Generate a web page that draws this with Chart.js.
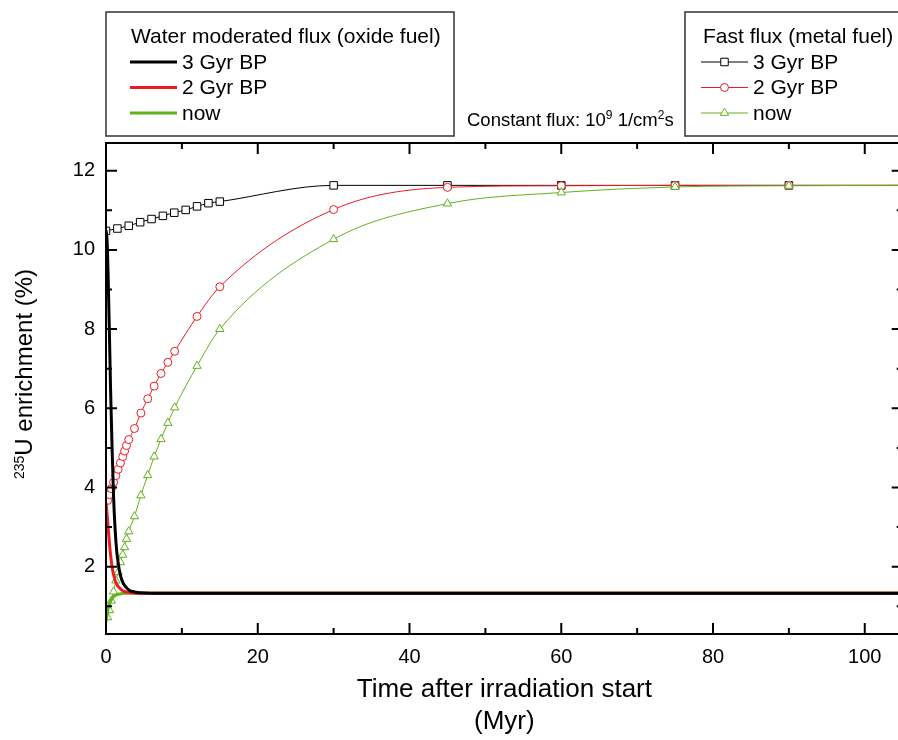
<!DOCTYPE html>
<html>
<head>
<meta charset="utf-8">
<script src="https://cdn.jsdelivr.net/npm/chart.js@4.4.1/dist/chart.umd.min.js"></script>
<style>
  html, body { margin: 0; padding: 0; background: #fff; overflow: hidden; }
  #wrap { width: 909px; height: 740px; }
  canvas { display: block; }
</style>
</head>
<body>
<div id="wrap"><canvas id="myChart" width="909" height="740"></canvas></div>
<script>
// FAST FLUX (metal fuel) - markers
var fast3Time = [0, 1.5, 3, 4.5, 6, 7.5, 9, 10.5, 12, 13.5, 15, 30, 45, 60, 75, 90, 105];
var fast3Enrich = [10.48, 10.54, 10.61, 10.70, 10.78, 10.86, 10.94, 11.01, 11.10, 11.18, 11.22, 11.63, 11.63, 11.63, 11.63, 11.63, 11.63];

var fastTime = [0.2, 0.45, 0.7, 1.0, 1.3, 1.6, 1.9, 2.2, 2.45, 2.7, 3.0, 3.75, 4.6, 5.5, 6.35, 7.25, 8.15, 9.05, 12, 15, 30, 45, 60, 75, 90, 105];
var fast2Enrich = [3.67, 3.82, 3.97, 4.13, 4.30, 4.46, 4.62, 4.78, 4.92, 5.06, 5.21, 5.49, 5.88, 6.24, 6.56, 6.88, 7.16, 7.44, 8.32, 9.07, 11.02, 11.58, 11.62, 11.63, 11.63, 11.63];
var fastNowEnrich = [0.72, 0.90, 1.14, 1.37, 1.65, 1.86, 2.11, 2.30, 2.49, 2.70, 2.89, 3.27, 3.80, 4.31, 4.78, 5.22, 5.63, 6.02, 7.07, 8.00, 10.27, 11.17, 11.45, 11.59, 11.62, 11.63];

// WATER MODERATED FLUX (oxide fuel) - thick lines
var water3Time = [0, 0.15, 0.3, 0.45, 0.6, 0.8, 1.0, 1.2, 1.4, 1.6, 1.85, 2.1, 2.4, 2.8, 3.2, 3.8, 4.5, 6, 105];
var water3Enrich = [10.5, 10.2, 9.2, 7.9, 6.5, 5.0, 3.75, 2.95, 2.42, 2.1, 1.82, 1.66, 1.54, 1.45, 1.39, 1.36, 1.34, 1.33, 1.33];

var water2Time = [0, 0.15, 0.3, 0.45, 0.6, 0.8, 1.0, 1.3, 1.6, 2.0, 2.5, 3.0, 4.0, 105];
var water2Enrich = [3.62, 3.3, 2.95, 2.6, 2.3, 2.0, 1.8, 1.6, 1.5, 1.42, 1.37, 1.35, 1.33, 1.33];

var waterNowTime = [0, 0.1, 0.2, 0.35, 0.5, 0.75, 1.0, 1.3, 1.8, 2.5, 105];
var waterNowEnrich = [0.62, 0.75, 0.87, 1.0, 1.09, 1.18, 1.24, 1.28, 1.31, 1.33, 1.33];

// ticks
var xTicks = [0, 10, 20, 30, 40, 50, 60, 70, 80, 90, 100];
var xLabels = [0, 20, 40, 60, 80, 100];
var yTicks = [1, 2, 3, 4, 5, 6, 7, 8, 9, 10, 11, 12];
var yLabels = [2, 4, 6, 8, 10, 12];

var RED = '#ec1c24';
var GREEN = '#62b21e';
var FONT = "'Liberation Sans', Arial, sans-serif";

function pairs(xs, ys) {
  return xs.map(function (x, i) { return { x: x, y: ys[i] }; });
}

Chart.defaults.font.family = FONT;
Chart.defaults.color = '#000';

// box, inward ticks, axis title, legends
var decorations = {
  id: 'decorations',
  afterDraw: function (chart) {
    var c = chart.ctx, a = chart.chartArea;
    var xs = chart.scales.x, ys = chart.scales.y;
    c.save();

    c.strokeStyle = '#000';
    c.lineWidth = 2;
    c.strokeRect(a.left, a.top, a.right - a.left, a.bottom - a.top);
    c.beginPath();
    xTicks.forEach(function (v) {
      var px = xs.getPixelForValue(v), len = v % 20 === 0 ? 11 : 6;
      c.moveTo(px, a.bottom); c.lineTo(px, a.bottom - len);
      c.moveTo(px, a.top); c.lineTo(px, a.top + len);
    });
    yTicks.forEach(function (v) {
      var py = ys.getPixelForValue(v), len = v % 2 === 0 ? 11 : 6;
      c.moveTo(a.left, py); c.lineTo(a.left + len, py);
      c.moveTo(a.right, py); c.lineTo(a.right - len, py);
    });
    c.stroke();

    // y axis title with superscript
    c.save();
    c.translate(24, 374);
    c.rotate(-Math.PI / 2);
    c.fillStyle = '#000';
    c.textBaseline = 'alphabetic';
    c.font = '14px ' + FONT;
    var wSup = c.measureText('235').width;
    c.font = '24px ' + FONT;
    var wMain = c.measureText('U enrichment (%)').width;
    var x0 = -(wSup + wMain) / 2;
    c.font = '14px ' + FONT;
    c.fillText('235', x0, 0);
    c.font = '24px ' + FONT;
    c.fillText('U enrichment (%)', x0 + wSup, 8);
    c.restore();

    // legend boxes
    c.strokeStyle = '#333';
    c.lineWidth = 1.5;
    c.strokeRect(106, 12, 348, 124);
    c.strokeRect(685, 12, 240, 124);

    var ds = chart.data.datasets;
    var rows = [62, 87.5, 113];
    c.fillStyle = '#000';
    c.textBaseline = 'middle';
    c.font = '21px ' + FONT;
    c.fillText('Water moderated flux (oxide fuel)', 131, 37);
    c.fillText('Fast flux (metal fuel)', 703, 37);

    [0, 1, 2].forEach(function (i) {
      var w = ds[i], f = ds[i + 3], y = rows[i];
      c.strokeStyle = w.borderColor;
      c.lineWidth = w.borderWidth;
      c.beginPath(); c.moveTo(130, y); c.lineTo(177, y); c.stroke();
      c.fillStyle = '#000';
      c.fillText(w.label, 182, y + 1);

      c.strokeStyle = f.borderColor;
      c.lineWidth = 1;
      c.beginPath(); c.moveTo(701, y); c.lineTo(748, y); c.stroke();
      c.fillStyle = '#fff';
      c.strokeStyle = f.pointBorderColor;
      Chart.helpers.drawPoint(c, { pointStyle: f.pointStyle, radius: f.pointRadius, borderWidth: 1, rotation: 0 }, 724.5, y);
      c.fillStyle = '#000';
      c.fillText(f.label, 753, y + 1);
    });

    // constant flux note
    c.textBaseline = 'alphabetic';
    var x = 467, base = 126;
    function part(t, size, dy) {
      c.font = size + 'px ' + FONT;
      c.fillText(t, x, base - dy);
      x += c.measureText(t).width;
    }
    part('Constant flux: 10', 18.5, 0);
    part('9', 12, 7);
    part(' 1/cm', 18.5, 0);
    part('2', 12, 7);
    part('s', 18.5, 0);

    c.restore();
  }
};

var ctx = document.getElementById('myChart').getContext('2d');
var chart = new Chart(ctx, {
  type: 'line',
  data: {
    datasets: [
      { label: '3 Gyr BP', data: pairs(water3Time, water3Enrich), borderColor: '#000', borderWidth: 3, pointRadius: 0, order: 0 },
      { label: '2 Gyr BP', data: pairs(water2Time, water2Enrich), borderColor: RED, borderWidth: 3, pointRadius: 0, order: 1 },
      { label: 'now', data: pairs(waterNowTime, waterNowEnrich), borderColor: GREEN, borderWidth: 3, pointRadius: 0, order: 2 },
      { label: '3 Gyr BP', data: pairs(fast3Time, fast3Enrich), borderColor: '#000', borderWidth: 1,
        pointStyle: 'rect', pointRadius: 5.3, pointBorderColor: '#000', pointBackgroundColor: '#fff', pointBorderWidth: 1, order: 5 },
      { label: '2 Gyr BP', data: pairs(fastTime, fast2Enrich), borderColor: RED, borderWidth: 1,
        pointStyle: 'circle', pointRadius: 4, pointBorderColor: RED, pointBackgroundColor: '#fff', pointBorderWidth: 1, order: 4 },
      { label: 'now', data: pairs(fastTime, fastNowEnrich), borderColor: GREEN, borderWidth: 1,
        pointStyle: 'triangle', pointRadius: 4.8, pointBorderColor: GREEN, pointBackgroundColor: '#fff', pointBorderWidth: 1, order: 3 }
    ]
  },
  options: {
    responsive: false,
    animation: false,
    layout: { padding: { top: 143, right: 1, left: 0, bottom: 0 } },
    plugins: { legend: { display: false }, tooltip: { enabled: false } },
    elements: { line: { cubicInterpolationMode: 'monotone' } },
    scales: {
      x: {
        type: 'linear',
        min: 0,
        max: 105,
        grid: { display: false, drawTicks: false },
        border: { display: false },
        afterBuildTicks: function (s) { s.ticks = xLabels.map(function (v) { return { value: v }; }); },
        afterFit: function (s) { s.height = 106; },
        ticks: { padding: 11, maxRotation: 0, font: { size: 20 }, color: '#000' },
        title: {
          display: true,
          text: ['Time after irradiation start', '(Myr)'],
          font: { size: 26, lineHeight: 1.23 },
          color: '#000',
          padding: { top: 0, bottom: 2 }
        }
      },
      y: {
        min: 0.3,
        max: 12.7,
        grid: { display: false, drawTicks: false },
        border: { display: false },
        afterBuildTicks: function (s) { s.ticks = yLabels.map(function (v) { return { value: v }; }); },
        afterFit: function (s) { s.width = 106; },
        ticks: { padding: 11, font: { size: 20 }, color: '#000' }
      }
    }
  },
  plugins: [decorations]
});
</script>
</body>
</html>
